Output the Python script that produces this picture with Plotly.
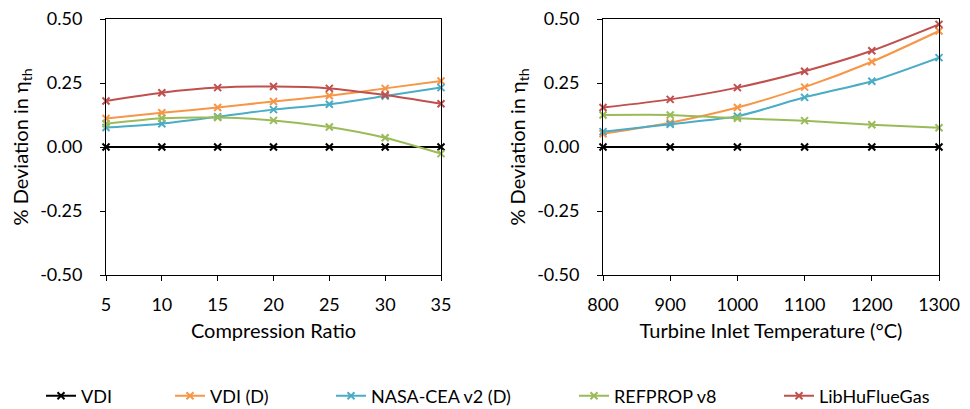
import plotly.graph_objects as go
from plotly.subplots import make_subplots

# ---- data ----
compression_ratio = [5, 10, 15, 20, 25, 30, 35]
tit = [800, 900, 1000, 1100, 1200, 1300]

series_names = ["VDI", "VDI (D)", "NASA-CEA v2 (D)", "REFPROP v8", "LibHuFlueGas"]
series_colors = ["#000000", "#F79646", "#4BACC6", "#9BBB59", "#C0504D"]

cr_vdi = [0, 0, 0, 0, 0, 0, 0]
cr_vdi_d = [0.111, 0.134, 0.154, 0.178, 0.200, 0.229, 0.258]
cr_nasa = [0.076, 0.091, 0.118, 0.146, 0.167, 0.199, 0.232]
cr_refprop = [0.091, 0.112, 0.115, 0.104, 0.078, 0.036, -0.026]
cr_libhu = [0.180, 0.212, 0.232, 0.236, 0.229, 0.203, 0.169]

t_vdi = [0, 0, 0, 0, 0, 0]
t_vdi_d = [0.052, 0.095, 0.154, 0.234, 0.333, 0.453]
t_nasa = [0.060, 0.089, 0.120, 0.194, 0.257, 0.349]
t_refprop = [0.125, 0.125, 0.112, 0.103, 0.087, 0.075]
t_libhu = [0.154, 0.186, 0.232, 0.296, 0.376, 0.479]

y_ticks = [-0.5, -0.25, 0, 0.25, 0.5]
y_tick_text = ["-0.50", "-0.25", "0.00", "0.25", "0.50"]

left_series = [cr_vdi, cr_vdi_d, cr_nasa, cr_refprop, cr_libhu]
right_series = [t_vdi, t_vdi_d, t_nasa, t_refprop, t_libhu]

FONT = "Lato, 'Open Sans', sans-serif"

fig = make_subplots(rows=1, cols=2)

legend_keys = ["legend", "legend2", "legend3", "legend4", "legend5"]
legend_x_px = [37, 166, 327, 570, 775]

for i, name in enumerate(series_names):
    for col, (xs, ys) in enumerate([(compression_ratio, left_series[i]), (tit, right_series[i])], start=1):
        fig.add_trace(
            go.Scatter(
                x=xs, y=ys, name=name, mode="lines+markers",
                line=dict(color=series_colors[i], width=2, shape="spline", smoothing=0.6),
                marker=dict(symbol="x-thin", size=7, color=series_colors[i],
                            line=dict(color=series_colors[i], width=2)),
                cliponaxis=False,
                showlegend=(col == 1),
                legend=legend_keys[i],
            ),
            row=1, col=col,
        )

W, H = 970, 409
axis_common = dict(showline=True, mirror=True, linecolor="#000000", linewidth=1,
                   showgrid=False, zeroline=False, ticks="outside", ticklen=5,
                   tickcolor="#000000", automargin=False,
                   tickfont=dict(family=FONT, size=18, color="#000000"))

fig.update_xaxes(**axis_common)
fig.update_yaxes(**axis_common)

title_font = dict(family=FONT, size=20, color="#000000")

fig.update_xaxes(range=[5, 35], tickvals=compression_ratio, domain=[106 / W, 441 / W],
                 ticklabelstandoff=8,
                 title=dict(text="Compression Ratio", font=title_font, standoff=10),
                 row=1, col=1)
fig.update_xaxes(range=[800, 1300], tickvals=tit, domain=[603 / W, 939 / W],
                 ticklabelstandoff=8,
                 title=dict(text="Turbine Inlet Temperature (°C)", font=title_font, standoff=10),
                 row=1, col=2)

for col in (1, 2):
    fig.update_yaxes(range=[-0.5, 0.5], tickvals=y_ticks, ticktext=y_tick_text,
                     domain=[1 - 275 / H, 1 - 19 / H], ticklabelstandoff=14,
                     title=dict(text="% Deviation in η<sub>th</sub>", font=title_font, standoff=6),
                     row=1, col=col)

layout_legends = {}
for key, xp in zip(legend_keys, legend_x_px):
    layout_legends[key] = dict(x=(xp + 4) / W, y=1 - 396 / H, xanchor="left", yanchor="middle",
                               orientation="h", bgcolor="rgba(0,0,0,0)",
                               font=dict(family=FONT, size=18, color="#000000"))

fig.update_layout(
    width=W, height=H,
    margin=dict(l=0, r=0, t=0, b=0, autoexpand=False),
    paper_bgcolor="white", plot_bgcolor="white",
    font=dict(family=FONT, color="#000000"),
    **layout_legends,
)

fig.write_html("out.html")
